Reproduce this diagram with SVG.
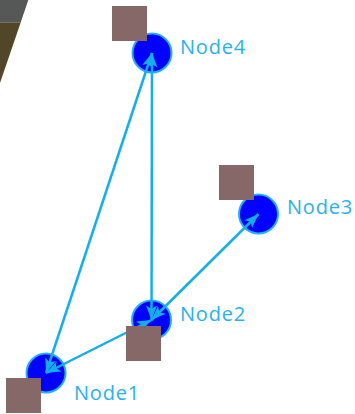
<svg xmlns="http://www.w3.org/2000/svg" width="355" height="414" viewBox="0 0 355 414">
  <defs>
    <style>
      .node-dot { fill: #0000ff; stroke: #22b2f0; stroke-width: 2; }
      .node-label { font-family: "Open Sans", "Liberation Sans", sans-serif; font-size: 20px; fill: #27b2ea; letter-spacing: 0.8px; }
      .edge { stroke: #14aeea; stroke-width: 2.5; fill: none; marker-start: url(#arrow); marker-end: url(#arrow); }
      .badge { fill: #856867; }
    </style>
    <marker id="arrow" markerUnits="userSpaceOnUse" viewBox="-16 -8 18 16" refX="0" refY="0" markerWidth="18" markerHeight="16" orient="auto-start-reverse">
      <path d="M0,0 L-14.5,-5.5 L-11,0 L-14.5,5.5 Z" fill="#14aeea"/>
    </marker>
  </defs>

  <rect width="355" height="414" fill="#ffffff"/>

  <!-- corner backdrop -->
  <polygon points="0,0 28.3,0 20.6,22.7 0,22.7" fill="#555857"/>
  <polygon points="0,22.7 20.6,22.7 0,83" fill="#514627"/>

  <!-- nodes -->
  <g id="node4">
    <circle class="node-dot" cx="152" cy="53" r="19.5"/>
    <text class="node-label" x="180" y="54">Node4</text>
  </g>
  <g id="node3">
    <circle class="node-dot" cx="258.5" cy="214" r="19.5"/>
    <text class="node-label" x="287" y="214">Node3</text>
  </g>
  <g id="node2">
    <circle class="node-dot" cx="151.5" cy="320" r="19.5"/>
    <text class="node-label" x="180" y="321">Node2</text>
  </g>
  <g id="node1">
    <circle class="node-dot" cx="46" cy="373" r="19.5"/>
    <text class="node-label" x="74" y="400">Node1</text>
  </g>

  <!-- connectors -->
  <g id="edges">
    <line class="edge" x1="46" y1="373" x2="152" y2="53"/>
    <line class="edge" x1="151.5" y1="320" x2="152" y2="53"/>
    <line class="edge" x1="151.5" y1="320" x2="258.5" y2="214"/>
    <line class="edge" x1="46" y1="373" x2="151.5" y2="320"/>
  </g>

  <!-- node badges -->
  <g id="node4-badge"><rect class="badge" x="112" y="6" width="35" height="35"/></g>
  <g id="node3-badge"><rect class="badge" x="219" y="165" width="35" height="35"/></g>
  <g id="node2-badge"><rect class="badge" x="126" y="326" width="35" height="35"/></g>
  <g id="node1-badge"><rect class="badge" x="6" y="378" width="35" height="35"/></g>
</svg>
